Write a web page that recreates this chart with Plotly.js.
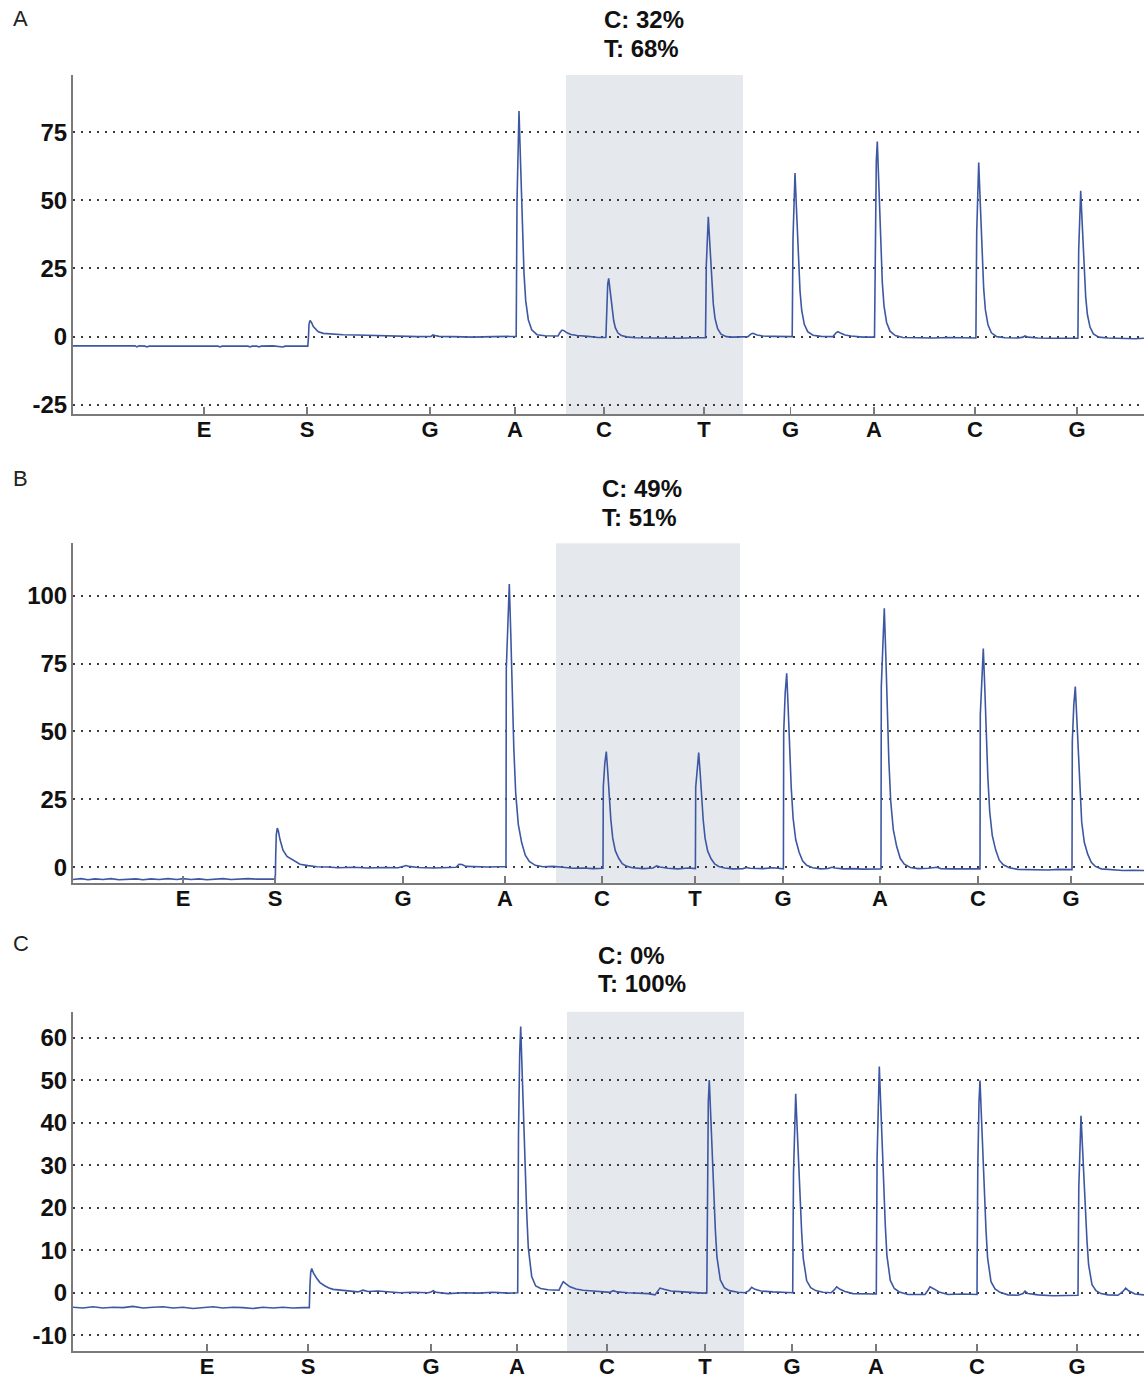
<!DOCTYPE html>
<html>
<head>
<meta charset="utf-8">
<script src="https://cdn.plot.ly/plotly-3.0.1.min.js"></script>
<style>html,body{margin:0;padding:0;background:#fff;}#chart{width:1144px;height:1379px;}</style>
</head>
<body>
<div id="chart"></div>
<script>
// ---- Data (time units along the run, signal units) ----
const tickLetters = ['E','S','G','A','C','T','G','A','C','G'];
const aTickPos = [131,234,357,442,531,631,717.5,801,902,1004];
const bTickPos = [110,202,330,432,529,622,710,807,905,998];
const cTickPos = [134,235,358,444,534,632,719,803,904,1004];

const aYTicks = [-25,0,25,50,75];
const bYTicks = [0,25,50,75,100];
const cYTicks = [-10,0,10,20,30,40,50,60];

const aShade = [493,670];
const bShade = [483,667];
const cShade = [494,671];

const aPercent = ['C: 32%','T: 68%'];
const bPercent = ['C: 49%','T: 51%'];
const cPercent = ['C: 0%','T: 100%'];
const panelLetters = ['A','B','C'];

// [time, signal] pairs
const aTrace = [
[0,-3.4],[30,-3.5],[62,-3.4],[64,-3.8],[66,-3.4],[72,-3.5],[74,-3.8],[76,-3.5],[110,-3.4],[145,-3.5],[147,-3.8],[149,-3.5],[175,-3.5],[177,-3.8],[179,-3.5],[184,-3.5],[186,-3.8],[188,-3.5],[200,-3.4],[208,-3.5],[210,-3.8],[212,-3.5],[234.8,-3.5],
[235.5,0],[236,4.5],[237,5.9],[238.5,5.2],[240.3,3.7],[243,2.5],[245.3,1.8],[250.3,1.2],[260,0.9],[270,0.7],[284,0.6],[300,0.4],[317,0.1],[330,0.2],[345,0],[358,0.1],[360,0.6],[362,0.4],[366,0.1],[380,0],[400,-0.2],[420,0],[443.2,0.1],
[444,49.7],[445,74.5],[446,82.8],[447.7,62.1],[449.7,37.3],[451,23.2],[452.7,13.2],[455.3,6.2],[458.7,2.5],[464,0.7],[472,0.3],[480,0.2],
[485,0.2],[487,1.5],[489,2.4],[491,2.2],[494,1.4],[498,0.8],[504,0.4],[515,0.1],[525,-0.3],[532.9,-0.3],
[533.7,12.7],[534.7,19.2],[535.7,21.4],[537.4,16.2],[539.4,9.5],[540.7,5.8],[542.4,3.2],[545,1.3],[548.4,0.4],[553.7,-0.1],[562,-0.4],[575,-0.5],[590,-0.4],[605,-0.6],[620,-0.4],[632.5,-0.4],
[633.3,26.2],[634.3,39.6],[635.3,44],[637,32.9],[639,19.6],[640.3,12],[642,6.7],[644.6,2.9],[648,0.9],[653.3,0],[660,-0.2],[670,-0.1],[675,0],[678,1.0],[680,1.2],[684,0.6],[690,0.2],[700,0.1],[710,0],[719.2,0],
[720,36],[721,54],[722,60],[723.7,45],[725.7,27],[727,16.8],[728.7,9.6],[731.3,4.5],[734.7,1.8],[740,0.5],[748,0.1],[755,0],[760,0],[763,1.4],[765,1.8],[768,1.2],[772,0.6],[778,0.2],[790,-0.2],[801.5,-0.2],
[802.3,42.9],[803.3,64.4],[804.3,71.6],[806,53.7],[808,32.1],[809.3,19.9],[811,11.3],[813.6,5.2],[817,2],[822.3,0.4],[830,-0.3],[845,-0.4],[860,-0.5],[875,-0.3],[890,-0.4],[902.9,-0.5],
[903.7,38.1],[904.7,57.5],[905.7,63.9],[907.4,47.8],[909.4,28.5],[910.7,17.5],[912.4,9.8],[915,4.3],[918.4,1.4],[923.7,0],[932,-0.4],[945,-0.5],[950,-0.2],[952,0.3],[955,-0.2],[965,-0.5],[980,-0.6],[995,-0.5],[1004.9,-0.6],
[1005.7,31.9],[1006.7,48.1],[1007.7,53.5],[1009.4,40],[1011.4,23.8],[1012.7,14.5],[1014.4,8.1],[1017,3.5],[1020.4,1],[1025.7,-0.2],[1035,-0.5],[1045,-0.6],[1055,-0.5],[1062,-0.8],[1071,-0.6]
];

const bTrace = [
[0,-4.5],[8,-4.2],[15,-4.6],[22,-4.3],[30,-4.5],[38,-4.2],[46,-4.6],[55,-4.4],[63,-4.3],[70,-4.6],[78,-4.3],[86,-4.5],[95,-4.2],[104,-4.5],[110,-4.2],[118,-4.5],[126,-4.3],[134,-4.6],[142,-4.4],[150,-4.2],[158,-4.5],[166,-4.4],[175,-4.2],[184,-4.4],[193,-4.3],[202.3,-4.4],
[202.7,4],[203.3,12],[204.3,14.4],[205.3,13.4],[207,10.2],[210,6.3],[214,4.0],[217,3.3],[222,2],[227,1.1],[235,0.6],[244,0.2],[255,0.1],[265,-0.2],[280,0],[295,-0.3],[310,-0.1],[325,-0.2],[330,0.3],[333,0.6],[336,0.3],[345,-0.1],[360,-0.3],[375,-0.2],[383,0],[386,1.1],[389,1.0],[393,0.3],[400,0.2],[415,0.1],[425,0.2],[433,0.2],
[433.3,73.1],[434.8,93.9],[436.3,104.3],[437.8,85.6],[439.3,62.7],[440.8,43.9],[442.7,27.3],[445.3,15.8],[448.7,9],[452.3,4.4],[456.3,2.1],[462.3,0.7],[470,0.2],[480,0.3],[490,0],[500,-0.4],[510,-0.3],[520,-0.5],[530,-0.4],
[530.3,29.7],[531.8,38.3],[533.3,42.6],[534.8,34.9],[536.3,25.4],[537.8,17.7],[539.7,10.8],[542.3,6.1],[545.7,3.3],[549.3,1.3],[553.3,0.4],[559.3,-0.2],[570,-0.5],[580,-0.3],[583.7,0.5],[587,0.1],[595,-0.4],[605,-0.6],[615,-0.3],[622.4,-0.5],
[622.7,29.4],[624.2,37.9],[625.7,42.2],[627.2,34.5],[628.7,25.1],[630.2,17.4],[632.1,10.6],[634.7,5.9],[638.1,3.1],[641.7,1.2],[645.7,0.3],[651.7,-0.3],[660,-0.6],[670,-0.5],[673.7,-0.1],[677,-0.4],[690,-0.5],[700,-0.2],[710.4,-0.6],
[710.7,49.8],[712.2,64.2],[713.7,71.4],[715.2,58.4],[716.7,42.6],[718.2,29.6],[720.1,18.1],[722.7,10.2],[726.1,5.5],[729.7,2.3],[733.7,0.7],[739.7,-0.2],[748,-0.6],[755,-0.5],[759,0],[762,-0.3],[770,-0.6],[780,-0.5],[790,-0.7],[800,-0.5],[808,-0.6],
[808.3,66.6],[809.8,85.8],[811.3,95.4],[812.8,78.1],[814.3,57],[815.8,39.7],[817.7,24.4],[820.3,13.8],[823.7,7.6],[827.3,3.2],[831.3,1.1],[837.3,-0.1],[845,-0.5],[855,-0.4],[864,0],[868,-0.5],[880,-0.6],[895,-0.5],[907,-0.6],
[907.3,56.2],[908.8,72.4],[910.3,80.5],[911.8,65.9],[913.3,48.1],[914.8,33.5],[916.7,20.5],[919.3,11.6],[922.7,6.3],[926.3,2.6],[930.3,0.9],[936.3,-0.2],[945,-0.8],[955,-0.9],[965,-0.8],[975,-1],[985,-0.8],[995,-1.0],[999,-0.9],
[999.3,46.3],[1000.8,59.8],[1002.3,66.5],[1003.8,54.4],[1005.3,39.5],[1006.8,27.4],[1008.7,16.6],[1011.3,9.2],[1014.7,4.8],[1018.3,1.8],[1022.3,0.3],[1028.3,-0.6],[1040,-1.0],[1050,-1.2],[1060,-1.1],[1071,-1.2]
];

const cTrace = [
[0,-3.4],[10,-3.6],[20,-3.3],[30,-3.6],[40,-3.4],[50,-3.5],[60,-3.2],[70,-3.6],[80,-3.4],[90,-3.3],[100,-3.6],[110,-3.4],[120,-3.7],[130,-3.5],[140,-3.3],[150,-3.6],[160,-3.4],[170,-3.5],[180,-3.7],[190,-3.4],[200,-3.6],[210,-3.4],[220,-3.6],[230,-3.5],[236.3,-3.5],
[237,2],[237.7,4.8],[238.7,5.7],[240.5,4.6],[243.7,3.4],[247,2.4],[252,1.6],[256,1.1],[260.3,0.8],[268,0.6],[277,0.5],[285,0.2],[290,0.6],[295,0.3],[305,0.4],[315,0.2],[327,0],[340,0.1],[355,0],[358,0.2],[360.3,0.5],[363,0.1],[375,-0.2],[390,0],[405,-0.1],[420,0.1],[435,-0.1],[444.7,0],
[445.5,37.6],[446.7,56.3],[447.7,62.6],[449.4,50.1],[450.7,38.8],[452,30.7],[453.7,18.8],[455.3,10.6],[458.7,3.8],[462.7,1.6],[467.7,1.0],[475,0.7],[483,0.6],
[486,0.6],[488,1.6],[490.3,2.6],[493,2.1],[497,1.4],[503,0.9],[510,0.6],[520,0.4],[530,0.3],[537,0.1],[540.3,0.5],[544,0.2],[555,0],[565,-0.1],[575,-0.2],[582,-0.5],[585,0.6],[587,1.1],[591,0.8],[598,0.4],[610,0.2],[620,0],[630,-0.1],[633.8,0],
[634.4,30],[635.3,45],[636.3,50],[638,40],[639.3,31],[640.6,24.5],[642.3,15],[643.9,8.5],[647.3,3],[651.3,1.2],[656.3,0.5],[665,0.1],[672,0],[676,0.5],[678.7,1.3],[682,0.8],[688,0.4],[700,0.2],[712,0.1],[719.7,0],
[720.5,28.1],[721.7,42.1],[722.7,46.8],[724.4,37.4],[725.7,29],[727,22.9],[728.7,14],[730.3,8],[733.7,2.8],[737.7,1.2],[742.7,0.5],[750,0.1],[758,0],[761,0.6],[763.7,1.4],[767,0.8],[772,0.3],[780,-0.2],[790,-0.2],[800,-0.3],[803.3,-0.3],
[804.1,31.8],[805.3,47.9],[806.3,53.2],[808,42.5],[809.3,32.9],[810.6,25.9],[812.3,15.8],[813.9,8.8],[817.3,2.9],[821.3,1],[826.3,0.2],[835,-0.4],[845,-0.5],[852,-0.4],[855,0.6],[857,1.4],[861,0.9],[866,0.2],[875,-0.4],[890,-0.3],[904,-0.4],
[904.8,29.8],[906,44.9],[907,49.9],[908.7,39.8],[910,30.8],[911.3,24.2],[913,14.7],[914.6,8.2],[918,2.6],[922,0.9],[927,0.1],[935,-0.5],[945,-0.6],[950,-0.2],[952,0.4],[955,-0.2],[965,-0.5],[980,-0.7],[995,-0.6],[1005,-0.6],
[1005.8,24.7],[1007,37.4],[1008,41.6],[1009.7,33.2],[1011,25.6],[1012.3,20.1],[1014,12.1],[1015.6,6.6],[1019,1.9],[1023,0.5],[1028,-0.2],[1035,-0.5],[1045,-0.6],[1050,0.3],[1052.7,1.1],[1056,0.4],[1062,-0.3],[1071,-0.5]
];

// ---- Build figure ----
const FONT = 'Liberation Sans, Arial, Helvetica, sans-serif';
const LINE_COLOR = '#3d57a2';
const AXIS_COLOR = '#7a7a7a';
const W = 1144, H = 1379;

function mkTrace(pairs, xa, ya) {
  return {
    type: 'scatter', mode: 'lines',
    x: pairs.map(p => p[0]), y: pairs.map(p => p[1]),
    xaxis: xa, yaxis: ya,
    line: {color: LINE_COLOR, width: 1.6},
    hoverinfo: 'skip'
  };
}

const xCommon = {
  range: [0, 1071], showline: true, linecolor: AXIS_COLOR, linewidth: 2,
  ticks: 'inside', ticklen: 7, tickwidth: 1.5, tickcolor: AXIS_COLOR,
  showgrid: false, zeroline: false, tickmode: 'array', ticktext: tickLetters,
  tickfont: {family: FONT, size: 22, color: '#111', weight: 700},
  ticklabelstandoff: -5, fixedrange: true
};
const yCommon = {
  showline: true, linecolor: AXIS_COLOR, linewidth: 2, ticks: '',
  showgrid: true, gridcolor: '#3a3a3a', gridwidth: 2, griddash: '2px,6px',
  zeroline: false, tickmode: 'array',
  tickfont: {family: FONT, size: 24, color: '#111', weight: 700},
  ticklabelstandoff: -1, fixedrange: true
};

const xDom = [73 / W, 1];
function yDom(topPx, botPx) { return [1 - botPx / H, 1 - topPx / H]; }
function yLabels(vals) { return vals.map(v => String(v)); }

const layout = {
  width: W, height: H,
  margin: {l: 0, r: 0, t: 0, b: 0},
  paper_bgcolor: '#ffffff', plot_bgcolor: 'rgba(0,0,0,0)',
  showlegend: false,
  xaxis:  Object.assign({}, xCommon, {domain: xDom, anchor: 'y',  tickvals: aTickPos}),
  yaxis:  Object.assign({}, yCommon, {domain: yDom(75, 414),     anchor: 'x',  range: [-28.4, 96],  tickvals: aYTicks, ticktext: yLabels(aYTicks)}),
  xaxis2: Object.assign({}, xCommon, {domain: xDom, anchor: 'y2', tickvals: bTickPos}),
  yaxis2: Object.assign({}, yCommon, {domain: yDom(543.3, 882.7), anchor: 'x2', range: [-5.7, 119.3], tickvals: bYTicks, ticktext: yLabels(bYTicks)}),
  xaxis3: Object.assign({}, xCommon, {domain: xDom, anchor: 'y3', tickvals: cTickPos}),
  yaxis3: Object.assign({}, yCommon, {domain: yDom(1011.7, 1351), anchor: 'x3', range: [-13.7, 66.1], tickvals: cYTicks, ticktext: yLabels(cYTicks)}),
  shapes: [
    {type: 'rect', xref: 'x',  yref: 'y domain',  x0: aShade[0], x1: aShade[1], y0: 0, y1: 1, fillcolor: '#e5e9ee', line: {width: 0}, layer: 'below'},
    {type: 'rect', xref: 'x2', yref: 'y2 domain', x0: bShade[0], x1: bShade[1], y0: 0, y1: 1, fillcolor: '#e5e9ee', line: {width: 0}, layer: 'below'},
    {type: 'rect', xref: 'x3', yref: 'y3 domain', x0: cShade[0], x1: cShade[1], y0: 0, y1: 1, fillcolor: '#e5e9ee', line: {width: 0}, layer: 'below'}
  ],
  annotations: []
};

// panel letters
const letterTops = [4, 464, 929];
panelLetters.forEach((L, i) => {
  layout.annotations.push({
    text: L, xref: 'paper', yref: 'paper', x: 11 / W, y: 1 - letterTops[i] / H,
    xanchor: 'left', yanchor: 'top', showarrow: false,
    font: {family: FONT, size: 22, color: '#222'}
  });
});

// percentage labels
const pctSets = [
  {lines: aPercent, left: 602, centers: [20, 48]},
  {lines: bPercent, left: 600, centers: [488, 517]},
  {lines: cPercent, left: 596, centers: [955, 984]}
];
pctSets.forEach(s => {
  s.lines.forEach((t, j) => {
    layout.annotations.push({
      text: t, xref: 'paper', yref: 'paper', x: s.left / W, y: 1 - s.centers[j] / H,
      xanchor: 'left', yanchor: 'middle', showarrow: false,
      font: {family: FONT, size: 24, color: '#111', weight: 700}
    });
  });
});

const data = [
  mkTrace(aTrace, 'x', 'y'),
  mkTrace(bTrace, 'x2', 'y2'),
  mkTrace(cTrace, 'x3', 'y3')
];

Plotly.newPlot('chart', data, layout, {staticPlot: true, displayModeBar: false});
</script>
</body>
</html>
